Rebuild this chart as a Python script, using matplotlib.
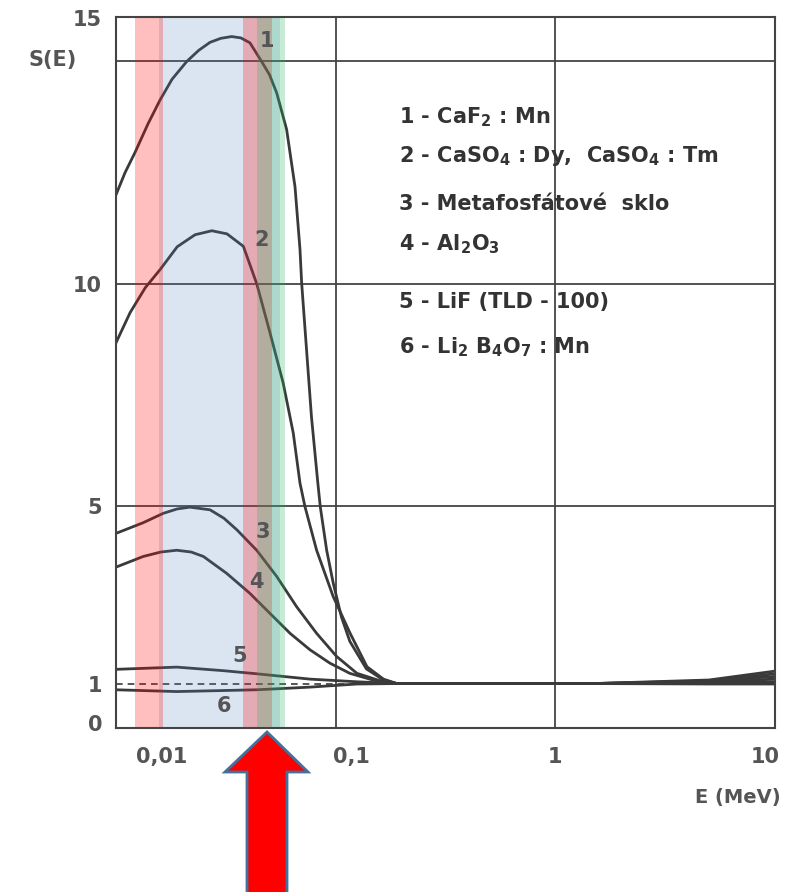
import matplotlib.pyplot as plt
from matplotlib.patches import Polygon
from matplotlib.transforms import ScaledTranslation

plt.rcParams["font.family"] = ["DejaVu Sans"]
plt.rcParams["font.weight"] = "bold"
plt.rcParams["mathtext.default"] = "regular"

# curves: energy (MeV) and relative response S(E)
e1 = [0.01, 0.011, 0.0122, 0.014, 0.0159, 0.018, 0.021, 0.0238, 0.0268, 0.03, 0.0336, 0.037,
      0.0407, 0.046, 0.05, 0.0539, 0.0598, 0.0653, 0.0688, 0.07, 0.0737, 0.0776, 0.083, 0.0851,
      0.091, 0.0974, 0.1062, 0.116, 0.138, 0.165, 0.19, 0.5, 1.5, 5, 10]
s1 = [12.0, 12.5, 12.95, 13.6, 14.14, 14.6, 15.0, 15.25, 15.43, 15.52, 15.56, 15.53,
      15.42, 15.0, 14.7, 14.29, 13.47, 12.18, 10.77, 10.02, 8.51, 7.0, 5.5, 4.98,
      4.0, 3.27, 2.5, 1.95, 1.33, 1.08, 1.0, 1.0, 1.0, 1.08, 1.28]

e2 = [0.01, 0.0116, 0.0136, 0.0159, 0.019, 0.0229, 0.0273, 0.032, 0.038, 0.0437, 0.0502,
      0.0577, 0.0641, 0.0688, 0.0725, 0.0819, 0.0974, 0.1164, 0.1388, 0.165, 0.19, 0.5, 1.5, 5, 10]
s2 = [8.67, 9.35, 9.91, 10.32, 10.83, 11.1, 11.19, 11.12, 10.84, 10.0, 8.9,
      7.76, 6.64, 5.51, 4.98, 4.0, 2.96, 2.13, 1.38, 1.1, 1.0, 1.0, 1.0, 1.06, 1.22]

e3 = [0.01, 0.0133, 0.0164, 0.019, 0.0217, 0.0268, 0.031, 0.0355, 0.0437, 0.0539, 0.0664,
      0.0819, 0.101, 0.125, 0.16, 0.19, 0.5, 1.5, 5, 10]
s3 = [4.38, 4.62, 4.83, 4.93, 4.97, 4.91, 4.72, 4.46, 4.0, 3.41, 2.73,
      2.13, 1.61, 1.23, 1.06, 1.0, 1.0, 1.0, 1.05, 1.16]

e4 = [0.01, 0.0133, 0.016, 0.0189, 0.022, 0.025, 0.0319, 0.0407, 0.0502, 0.062, 0.0764,
      0.0941, 0.116, 0.15, 0.19, 0.5, 1.5, 5, 10]
s4 = [3.62, 3.86, 3.96, 4.0, 3.96, 3.86, 3.48, 3.03, 2.58, 2.13, 1.76,
      1.46, 1.23, 1.07, 1.0, 1.0, 1.0, 1.03, 1.1]

e5 = [0.01, 0.0189, 0.0308, 0.0437, 0.0764, 0.125, 0.19, 0.5, 1.5, 5, 10]
s5 = [1.32, 1.37, 1.29, 1.22, 1.10, 1.04, 1.0, 1.0, 1.0, 1.01, 1.04]

e6 = [0.01, 0.0189, 0.0437, 0.0764, 0.125, 0.19, 0.5, 1.5, 5, 10]
s6 = [0.86, 0.82, 0.86, 0.92, 0.99, 1.0, 1.0, 1.0, 0.99, 0.99]

curves = [(e1, s1), (e2, s2), (e3, s3), (e4, s4), (e5, s5), (e6, s6)]

# curve number labels (energy, S)
num_labels = ["1", "2", "3", "4", "5", "6"]
num_e = [0.0487, 0.0462, 0.0467, 0.0434, 0.0367, 0.031]
num_s = [15.45, 10.99, 4.41, 3.29, 1.62, 0.5]

legend_lines = [
    "1 - CaF$_2$ : Mn",
    "2 - CaSO$_4$ : Dy,  CaSO$_4$ : Tm",
    "3 - Metafosfátové  sklo",
    "4 - Al$_2$O$_3$",
    "5 - LiF (TLD - 100)",
    "6 - Li$_2$ B$_4$O$_7$ : Mn",
]

# highlighted energy bands (MeV)
band_start = [0.0157, 0.0122, 0.0378, 0.0438]
band_end = [0.0558, 0.0164, 0.0513, 0.0588]
band_color = ["#4f81bd", "#ff0000", "#ff0000", "#23b363"]
band_alpha = [0.2, 0.25, 0.25, 0.25]

xtick_vals = [0.01, 0.1, 1, 10]
xtick_text = ["0,01", "0,1", "1", "10"]
ytick_vals = [0, 1, 5, 10, 15]
ytick_text = ["0", "1", "5", "10", "15"]

W, H = 794, 892
fig = plt.figure(figsize=(W / 100, H / 100), dpi=100)
ax = fig.add_axes([116 / W, 1 - 728 / H, 659 / W, 711 / H])

ink = "#3a3a3a"
for e, s in curves:
    ax.plot(e, s, color=ink, lw=2.0, zorder=2, solid_joinstyle="round")
ax.plot([0.01, 0.16], [1, 1], color=ink, lw=1.2, ls=(0, (4, 3)), zorder=2)

for v in [5, 10, 15]:
    ax.axhline(v, color="#444444", lw=1.3, zorder=1)
for v in [0.1, 1]:
    ax.axvline(v, color="#444444", lw=1.3, zorder=1)

for a, b, c, al in zip(band_start, band_end, band_color, band_alpha):
    ax.axvspan(a, b, color=c, alpha=al, lw=0, zorder=3)

for t, e, s in zip(num_labels, num_e, num_s):
    ax.text(e, s, t, fontsize=15, color="#555555", ha="center", va="center", zorder=4)

leg_y = [0.851, 0.796, 0.729, 0.672, 0.591, 0.527]
for t, y in zip(legend_lines, leg_y):
    ax.text(0.43, y, t, transform=ax.transAxes, fontsize=15, color="#333333",
            ha="left", va="baseline", zorder=4)

ax.set_xscale("log")
ax.set_xlim(0.01, 10)
ax.set_ylim(0, 16)
ax.minorticks_off()
ax.set_xticks(xtick_vals, xtick_text)
ax.set_yticks(ytick_vals, ytick_text)
ax.tick_params(length=0, labelsize=15, labelcolor="#555555")
ax.tick_params(axis="x", pad=14)
ax.tick_params(axis="y", pad=10)

# the original print shifts some tick labels off their lines
x_shift = [33, 11.5, 0, -7]
for lab, dx in zip(ax.get_xticklabels(), x_shift):
    lab.set_transform(lab.get_transform() + ScaledTranslation(dx / 72, 0, fig.dpi_scale_trans))
y_shift = [3.5, 0, 0, 0, 31.5]
for lab, dy in zip(ax.get_yticklabels(), y_shift):
    lab.set_transform(lab.get_transform() + ScaledTranslation(0, dy / 72, fig.dpi_scale_trans))

for sp in ax.spines.values():
    sp.set_color("#444444")
    sp.set_linewidth(1.5)
    sp.set_zorder(5)

fig.text(53 / W, 1 - 60 / H, "S(E)", fontsize=15, color="#555555", ha="center", va="center")
fig.text(738 / W, 1 - 797 / H, "E (MeV)", fontsize=14, color="#555555", ha="center", va="center")

# big red arrow pointing at the band
arrow_px = [(267, 732), (308, 772), (287, 772), (287, 900), (247, 900), (247, 772), (225, 772)]
arrow = Polygon([(x / W, 1 - y / H) for x, y in arrow_px], closed=True,
                transform=fig.transFigure, facecolor="#ff0000", edgecolor="#41719c", lw=2)
fig.patches.append(arrow)

fig.savefig("out.png", dpi=100)
